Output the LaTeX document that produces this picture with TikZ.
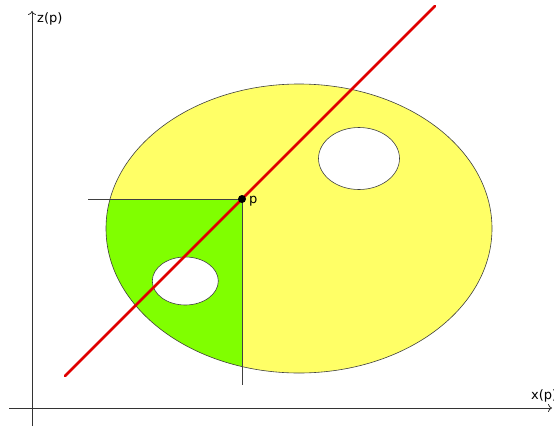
\documentclass[tikz,border=0pt]{standalone}
\usepackage{fontspec}
\setmainfont{DejaVu Sans}
\usetikzlibrary{arrows.meta}
\definecolor{yellowfill}{HTML}{FFFF66}
\definecolor{greenfill}{HTML}{80FF00}
\definecolor{redline}{HTML}{E00000}
\definecolor{outline}{HTML}{404040}
\begin{document}
\begin{tikzpicture}[x=1pt,y=-1pt,
  axis/.style={draw=black!80, line width=0.8pt, -{To[length=4pt,width=8pt]}},
  shapeline/.style={draw=outline, line width=0.6pt},
  guide/.style={draw=black!75, line width=0.6pt},
  lbl/.style={inner sep=0pt, font=\fontsize{13}{15}\selectfont}]
\useasboundingbox (0,0) rectangle (554,429);
% big ellipse fill
\fill[yellowfill] (299,228.5) ellipse [x radius=193, y radius=144.5];
% green quadrant
\begin{scope}
  \clip (299,228.5) ellipse [x radius=193, y radius=144.5];
  \fill[greenfill] (0,199) rectangle (242,429);
\end{scope}
\draw[shapeline] (299,228.5) ellipse [x radius=193, y radius=144.5];
% holes
\filldraw[shapeline, fill=white] (185.3,281) ellipse [x radius=33, y radius=24];
\filldraw[shapeline, fill=white] (359,158.5) ellipse [x radius=40.5, y radius=31];
% guide lines
\coordinate (p) at (242,199);
\coordinate (hl) at (88,199);
\coordinate (vl) at (242,385);
\draw[guide] (hl) -- (p) -- (vl);
% red line
\coordinate (r1) at (65,376);
\coordinate (r2) at (435,6);
\draw[redline, line width=2.6pt, line cap=round] (r1) -- (r2);
% point
\fill[black] (p) circle (4);
% axes
\coordinate (ya) at (32,426);
\coordinate (yb) at (32,11);
\coordinate (xa) at (9,408);
\coordinate (xb) at (552,408);
\draw[axis] (ya) -- (yb);
\draw[axis] (xa) -- (xb);
% labels
\node[lbl, anchor=west] (zl) at (37,18.5) {z(p)};
\node[lbl, anchor=west] (xl) at (531,395.5) {x(p)};
\node[lbl, anchor=west] (pl) at (249,201.5) {p};
\end{tikzpicture}
\end{document}
